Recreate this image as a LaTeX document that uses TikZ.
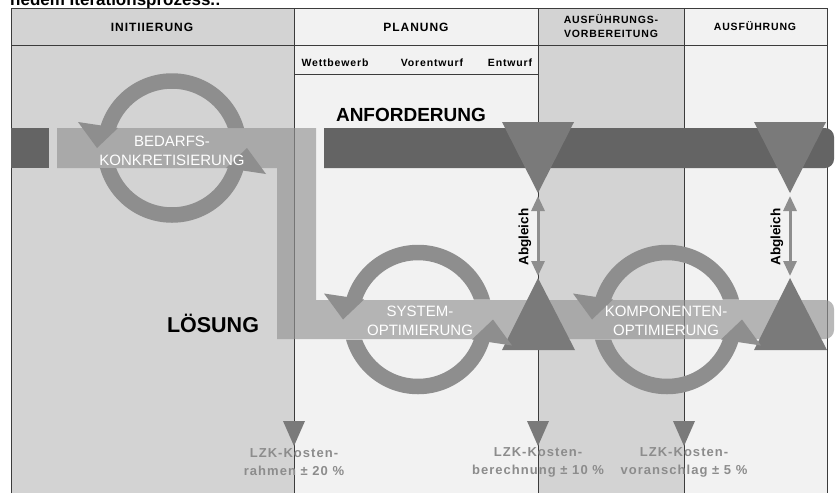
\documentclass[tikz,border=0pt]{standalone}
\usepackage{fontspec}
\setmainfont{Liberation Sans}
\newfontfamily\spaced[LetterSpace=8]{Liberation Sans}
\usetikzlibrary{arrows.meta}
\definecolor{bgdark}{RGB}{211,211,211}
\definecolor{bglight}{RGB}{242,242,242}
\definecolor{darkbar}{RGB}{100,100,100}
\definecolor{solbar}{RGB}{148,148,148}
\definecolor{ringc}{RGB}{142,142,142}
\definecolor{tric}{RGB}{122,122,122}
\definecolor{framec}{RGB}{60,60,60}
\definecolor{lzkc}{RGB}{140,140,140}
\begin{document}
\begin{tikzpicture}[x=1pt,y=-1pt,
  frameline/.style={draw=framec,line width=1pt},
  ringline/.style={draw=ringc,line width=15.5pt},
  headfill/.style={fill=ringc},
  trifill/.style={fill=tric},
  abgarrow/.style={draw=ringc,line width=3pt,{Triangle[width=13pt,length=15pt]}-{Triangle[width=13pt,length=15pt]}},
  hdr/.style={font=\spaced\bfseries\fontsize{12}{15}\selectfont,inner sep=0pt},
  hdrs/.style={font=\spaced\bfseries\fontsize{10.5}{14}\selectfont,align=center,inner sep=0pt},
  subhdr/.style={font=\spaced\bfseries\fontsize{10.5}{12}\selectfont,inner sep=0pt},
  bigtxt/.style={font=\bfseries\fontsize{19}{22}\selectfont,inner sep=0pt},
  ringtxt/.style={font=\fontsize{15}{18.5}\selectfont,text=white,align=center,inner sep=0pt},
  abgtxt/.style={font=\bfseries\fontsize{13.5}{15}\selectfont,rotate=90,inner sep=0pt},
  lzktxt/.style={font=\spaced\bfseries\fontsize{13}{18}\selectfont,text=lzkc,align=center,inner sep=0pt}
]
\useasboundingbox (0,0) rectangle (837,493);
\fill[white] (0,0) rectangle (837,493);
\node[anchor=base west,font=\bfseries\fontsize{17}{20}\selectfont,inner sep=0pt] (toptext) at (10,5) {nedem Iterationsprozess.:};

% column backgrounds
\fill[bgdark] (11,8) rectangle (294,493);
\fill[bglight] (294,8) rectangle (538,493);
\fill[bgdark] (538,8) rectangle (684,493);
\fill[bglight] (684,8) rectangle (827,493);

% frame and dividers
\draw[frameline] (11,493) -- (11,8) -- (827,8) -- (827,493);
\draw[frameline] (11,45) -- (827,45);
\draw[frameline] (294,74) -- (538,74);
\draw[frameline] (294,8) -- (294,493);
\draw[frameline] (538,8) -- (538,493);
\draw[frameline] (684,8) -- (684,493);

% rings (hidden inside the bars)
\foreach \cx/\cy in {172/148, 418/319.5, 667/319.5} {
  \begin{scope}
    \clip (\cx-95,\cy-100) rectangle (\cx+95,\cy-20) (\cx-95,\cy+20) rectangle (\cx+95,\cy+100);
    \draw[ringline] (\cx,\cy) circle[radius=67];
  \end{scope}
}

% Anforderung bar
\fill[darkbar] (11,128) rectangle (49,168);
\fill[darkbar] (324,128) -- (825,128) .. controls (830,128) and (834,132) .. (834,137)
  -- (834,159) .. controls (834,164) and (830,168) .. (825,168) -- (324,168) -- cycle;

% Loesung path
\fill[solbar,opacity=0.65] (57,128) -- (316,128) -- (316,300) -- (825,300)
  .. controls (830,300) and (834,304) .. (834,309) -- (834,330)
  .. controls (834,335) and (830,339) .. (825,339) -- (277,339) -- (277,168) -- (57,168) -- cycle;

% triangles
\fill[trifill] (502,122) -- (574,122) -- (538,193) -- cycle;
\fill[trifill] (754,122) -- (826,122) -- (790,193) -- cycle;
\fill[trifill] (538,278) -- (575,350) -- (502,350) -- cycle;
\fill[trifill] (790,278) -- (827,350) -- (754,350) -- cycle;

% ring arrow heads
\foreach \cx/\cy in {172/148, 418/319.5, 667/319.5} {
  \fill[headfill] (\cx-94,\cy-26) -- (\cx-54,\cy-20) -- (\cx-75,\cy) -- cycle;
  \fill[headfill] (\cx+94,\cy+26) -- (\cx+54,\cy+20) -- (\cx+75,\cy) -- cycle;
}

% Abgleich arrows
\coordinate (d1) at (538,196);
\coordinate (u1) at (538,276);
\coordinate (d2) at (790,196);
\coordinate (u2) at (790,276);
\draw[abgarrow] (d1) -- (u1);
\draw[abgarrow] (d2) -- (u2);
\node[abgtxt] (abg1) at (525,237) {Abgleich};
\node[abgtxt] (abg2) at (777,237) {Abgleich};

% LZK markers
\foreach \x in {294,538,684} {
  \fill[trifill] (\x-11,421) -- (\x+11,421) -- (\x,446) -- cycle;
}
\node[lzktxt] (lzk1) at (294,462) {LZK-Kosten-\\rahmen ± 20 \%};
\node[lzktxt] (lzk2) at (538,462) {LZK-Kosten-\\berechnung ± 10 \%};
\node[lzktxt] (lzk3) at (684,462) {LZK-Kosten-\\voranschlag ± 5 \%};

% headers
\node[hdr] (h1) at (152,27) {INITIIERUNG};
\node[hdr] (h2) at (416,27) {PLANUNG};
\node[hdrs] (h3) at (611,26) {AUSFÜHRUNGS-\\VORBEREITUNG};
\node[hdrs] (h4) at (755,26) {AUSFÜHRUNG};
\node[subhdr] (s1) at (335,63) {Wettbewerb};
\node[subhdr] (s2) at (432,63) {Vorentwurf};
\node[subhdr] (s3) at (510,63) {Entwurf};

% big labels
\node[bigtxt] (anf) at (411,115) {ANFORDERUNG};
\node[bigtxt,font=\bfseries\fontsize{21.5}{24}\selectfont] (loes) at (213,323) {LÖSUNG};

% ring labels
\node[ringtxt] (r1) at (172,151) {BEDARFS-\\KONKRETISIERUNG};
\node[ringtxt] (r2) at (420,321) {SYSTEM-\\OPTIMIERUNG};
\node[ringtxt] (r3) at (666,321) {KOMPONENTEN-\\OPTIMIERUNG};
\end{tikzpicture}
\end{document}
